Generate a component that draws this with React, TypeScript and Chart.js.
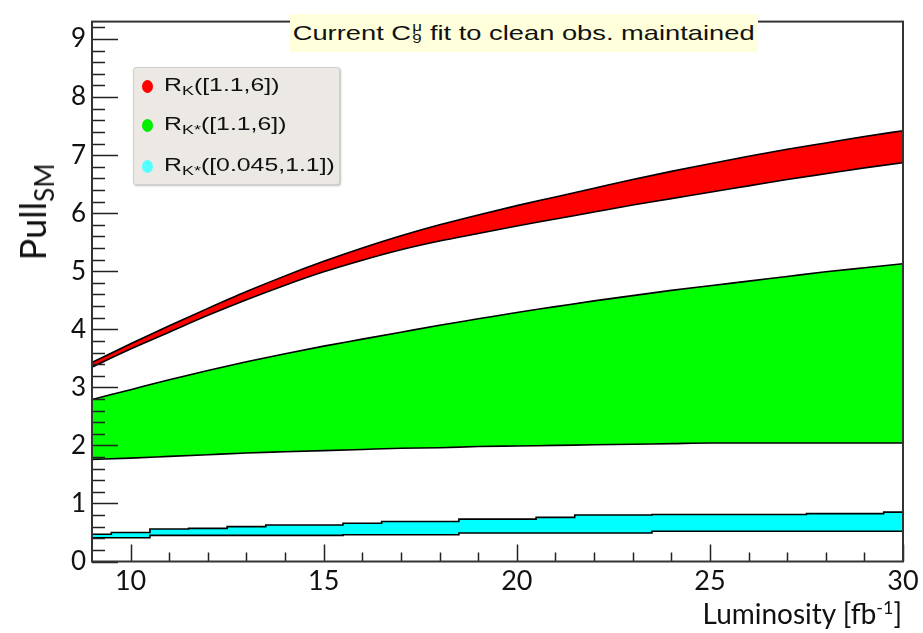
import React, { useEffect, useRef } from "react";
import { Chart, registerables } from "chart.js";

Chart.register(...registerables);

const luminosity = [9, 10, 11, 12, 13, 14, 15, 16, 17, 18, 19, 20, 21, 22, 23, 24, 25, 26, 27, 28, 29, 30];
const redUpper = [3.43, 3.75, 4.06, 4.36, 4.65, 4.92, 5.17, 5.4, 5.61, 5.8, 5.97, 6.13, 6.28, 6.43, 6.58, 6.72, 6.85, 6.98, 7.1, 7.21, 7.32, 7.42];
const redLower = [3.35, 3.66, 3.95, 4.24, 4.51, 4.76, 4.99, 5.19, 5.37, 5.52, 5.65, 5.78, 5.9, 6.02, 6.14, 6.25, 6.36, 6.47, 6.58, 6.68, 6.78, 6.87];
const greenUpper = [2.79, 2.96, 3.13, 3.29, 3.44, 3.58, 3.71, 3.83, 3.95, 4.07, 4.18, 4.29, 4.39, 4.49, 4.58, 4.67, 4.75, 4.83, 4.91, 4.99, 5.06, 5.13];
const greenLower = [1.76, 1.78, 1.81, 1.84, 1.87, 1.89, 1.91, 1.93, 1.95, 1.96, 1.98, 1.99, 2.0, 2.01, 2.02, 2.03, 2.04, 2.04, 2.04, 2.04, 2.04, 2.04];
const cyanUpper = [0.47, 0.5, 0.56, 0.57, 0.6, 0.63, 0.63, 0.66, 0.69, 0.69, 0.73, 0.73, 0.76, 0.8, 0.8, 0.81, 0.81, 0.81, 0.81, 0.825, 0.825, 0.85];
const cyanLower = [0.41, 0.41, 0.45, 0.45, 0.45, 0.45, 0.45, 0.46, 0.46, 0.46, 0.49, 0.49, 0.49, 0.49, 0.49, 0.52, 0.52, 0.52, 0.52, 0.52, 0.52, 0.52];
const xTickValues = [10, 15, 20, 25, 30];
const yTickValues = [0, 1, 2, 3, 4, 5, 6, 7, 8, 9];

const pts = (ys: number[]) => luminosity.map((x, i) => ({ x, y: ys[i] }));

const rootFrame = {
  id: "rootFrame",
  afterDatasetsDraw(chart: any) {
    const { ctx, chartArea: a, scales } = chart;
    const xs = scales.x;
    const ys = scales.y;
    ctx.save();
    ctx.strokeStyle = "#222";
    ctx.lineWidth = 1.5;
    ctx.beginPath();
    for (let v = 0; v <= 9.21; v += 0.2) {
      const vv = Math.round(v * 10) / 10;
      const py = Math.round(ys.getPixelForValue(vv)) + 0.5;
      const major = Math.abs(vv - Math.round(vv)) < 1e-6;
      ctx.moveTo(a.left, py);
      ctx.lineTo(a.left + (major ? 26 : 13), py);
    }
    for (let v = 10; v <= 30; v += 1) {
      const px = Math.round(xs.getPixelForValue(v)) + 0.5;
      const major = v % 5 === 0;
      ctx.moveTo(px, a.bottom);
      ctx.lineTo(px, a.bottom - (major ? 17 : 9));
    }
    ctx.stroke();
    ctx.lineWidth = 2;
    ctx.strokeStyle = "#333";
    ctx.strokeRect(a.left, a.top, a.right - a.left, a.bottom - a.top);
    ctx.restore();
  },
};

const bandLine = (label: string, data: number[], fill: any, color: string, stepped: any) => ({
  label,
  data: pts(data),
  borderColor: "#000",
  borderWidth: 1.6,
  backgroundColor: color,
  pointRadius: 0,
  fill,
  stepped,
  cubicInterpolationMode: "monotone",
});

export default function App() {
  const ref = useRef<HTMLCanvasElement>(null);
  useEffect(() => {
    if (!ref.current) return;
    const chart = new Chart(ref.current, {
      type: "line",
      data: {
        datasets: [
          bandLine("R_K lower", redLower, false, "#ff0000", false),
          bandLine("R_K([1.1,6])", redUpper, "-1", "#ff0000", false),
          bandLine("R_K* lower", greenLower, false, "#00ff00", false),
          bandLine("R_K*([1.1,6])", greenUpper, "-1", "#00ff00", false),
          bandLine("R_K* lower low", cyanLower, false, "#00ffff", "middle"),
          bandLine("R_K*([0.045,1.1])", cyanUpper, "-1", "#00ffff", "middle"),
        ] as any,
      },
      options: {
        animation: false,
        responsive: false,
        layout: { padding: { top: 9, right: 20, left: 0, bottom: 0 } },
        plugins: { legend: { display: false }, tooltip: { enabled: false } },
        scales: {
          x: {
            type: "linear",
            min: 9,
            max: 30,
            grid: { display: false, drawTicks: false },
            border: { display: false },
            afterBuildTicks: (s: any) => {
              s.ticks = xTickValues.map((v) => ({ value: v }));
            },
            afterFit: (s: any) => {
              s.height = 71.5;
            },
            ticks: {
              font: { family: "Lato", size: 27 },
              color: "#111",
              padding: 4,
              maxRotation: 0,
            },
          },
          y: {
            type: "linear",
            min: 0,
            max: 9.3,
            grid: { display: false, drawTicks: false },
            border: { display: false },
            afterBuildTicks: (s: any) => {
              s.ticks = yTickValues.map((v) => ({ value: v }));
            },
            afterFit: (s: any) => {
              s.width = 92;
            },
            ticks: {
              font: { family: "Lato", size: 26 },
              color: "#111",
              padding: 6,
            },
          },
        },
      },
      plugins: [rootFrame],
    });
    return () => chart.destroy();
  }, []);

  const legendRow = (color: string, top: number, sub: React.ReactNode, rest: string) => (
    <div style={{ position: "absolute", left: 0, top, height: 24, display: "flex", alignItems: "center" }}>
      <div style={{ width: 11, height: 13, borderRadius: "50%", background: color, marginLeft: 8, marginRight: 11 }} />
      <span
        style={{
          fontFamily: "'Liberation Sans', Arial, sans-serif",
          fontSize: 18,
          color: "#111",
          whiteSpace: "nowrap",
          display: "inline-block",
          transform: "scaleX(1.38)",
          transformOrigin: "left center",
        }}
      >
        R<sub style={{ fontSize: 13, verticalAlign: "-4px" }}>{sub}</sub>
        {rest}
      </span>
    </div>
  );

  return (
    <div style={{ position: "absolute", left: 0, top: 0, width: 923, height: 633, background: "#fff", overflow: "hidden" }}>
      <canvas ref={ref} width={923} height={633} style={{ width: 923, height: 633, display: "block" }} />
      <div
        style={{
          position: "absolute",
          left: 290,
          top: 14,
          width: 468,
          height: 38,
          background: "#ffffdc",
          display: "flex",
          alignItems: "center",
          justifyContent: "center",
        }}
      >
        <div
          style={{
            display: "flex",
            alignItems: "center",
            fontFamily: "'Liberation Sans', Arial, sans-serif",
            fontSize: 21,
            color: "#111",
            whiteSpace: "nowrap",
            transform: "scaleX(1.3)",
          }}
        >
          <span>Current C</span>
          <span style={{ display: "inline-flex", flexDirection: "column", fontSize: 13, lineHeight: "12px", marginLeft: 1, marginRight: 6, textAlign: "left" }}>
            <span>μ</span>
            <span>9</span>
          </span>
          <span>fit to clean obs. maintained</span>
        </div>
      </div>
      <div
        style={{
          position: "absolute",
          left: 133,
          top: 67,
          width: 205,
          height: 116,
          background: "#ece9e5",
          border: "1px solid #cfcfcf",
          borderRadius: 3,
          boxShadow: "1px 1px 2px rgba(0,0,0,0.25)",
        }}
      >
        {legendRow("#ff0000", 6, "K", "([1.1,6])")}
        {legendRow("#00ee00", 45, "K*", "([1.1,6])")}
        {legendRow("#55ffff", 86, "K*", "([0.045,1.1])")}
      </div>
      <div
        style={{
          position: "absolute",
          left: 35,
          top: 212,
          transform: "translate(-50%, -50%) rotate(-90deg)",
          fontFamily: "Lato, sans-serif",
          fontSize: 36,
          color: "#111",
          whiteSpace: "nowrap",
        }}
      >
        Pull<sub style={{ fontSize: 26, verticalAlign: "-8px" }}>SM</sub>
      </div>
      <div
        style={{
          position: "absolute",
          right: 21,
          top: 596,
          fontFamily: "Lato, sans-serif",
          fontSize: 28,
          color: "#111",
          whiteSpace: "nowrap",
        }}
      >
        Luminosity [fb<sup style={{ fontSize: 18, verticalAlign: "10px" }}>-1</sup>]
      </div>
    </div>
  );
}
